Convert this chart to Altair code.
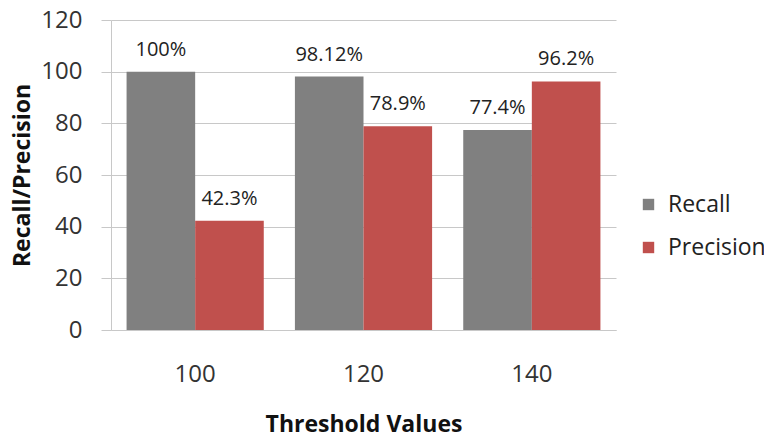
import altair as alt
import pandas as pd

thresholds = ["100", "120", "140"]
series = ["Recall", "Precision"]
recall = [100, 98.12, 77.4]
precision = [42.3, 78.9, 96.2]
recall_labels = ["100%", "98.12%", "77.4%"]
precision_labels = ["42.3%", "78.9%", "96.2%"]
colors = ["#808080", "#C0504D"]

rows = []
for t, r, rl in zip(thresholds, recall, recall_labels):
    rows.append({"Threshold": t, "Series": "Recall", "Value": r, "Label": rl})
for t, p, pl in zip(thresholds, precision, precision_labels):
    rows.append({"Threshold": t, "Series": "Precision", "Value": p, "Label": pl})
df = pd.DataFrame(rows)

FONT = "Open Sans"
GRID = "#C8C8C8"

x = alt.X("Threshold:N", sort=thresholds,
          scale=alt.Scale(paddingInner=0.185, paddingOuter=0.0925),
          axis=alt.Axis(title="Threshold Values", labelAngle=0, ticks=False,
                        domainColor=GRID, labelFontSize=24, labelPadding=32,
                        labelColor="#333333", titleFontSize=23, titleFont=FONT,
                        labelFont=FONT, titleFontWeight="bold", titlePadding=27,
                        titleColor="#111111"))
xo = alt.XOffset("Series:N", sort=series, scale=alt.Scale(paddingInner=0, paddingOuter=0))
y = alt.Y("Value:Q", scale=alt.Scale(domain=[0, 120]),
          axis=alt.Axis(title="Recall/Precision", values=[0, 20, 40, 60, 80, 100, 120],
                        tickSize=10, tickColor=GRID, domainColor=GRID, gridColor=GRID,
                        labelFontSize=24, labelPadding=19, labelColor="#333333",
                        labelFont=FONT, titleFont=FONT, titleFontSize=23,
                        titleFontWeight="bold", titleColor="#111111",
                        titleX=-89, titleY=155, titleAngle=270,
                        titleAlign="center", titleBaseline="middle"))
color = alt.Color("Series:N", sort=series,
                  scale=alt.Scale(domain=series, range=colors),
                  legend=alt.Legend(title=None, orient="none", legendX=526, legendY=173,
                                    symbolType="square", symbolSize=130,
                                    symbolStrokeWidth=0, labelFontSize=23,
                                    labelFont=FONT, labelColor="#222222",
                                    rowPadding=19, labelOffset=8, labelLimit=200))

bars = alt.Chart(df).mark_bar().encode(x=x, xOffset=xo, y=y, color=color)
text = alt.Chart(df).mark_text(baseline="bottom", dy=-12, fontSize=20, font=FONT,
                               color="#222222").encode(
    x=x, xOffset=xo, y=y, text="Label:N")

chart = (bars + text).properties(
    width=505, height=310,
    autosize=alt.AutoSizeParams(type="none"),
    padding={"left": 103, "top": 12, "right": 148, "bottom": 106},
).configure_view(stroke=None)

chart.save("out.html", embed_options={"renderer": "svg", "actions": False})
